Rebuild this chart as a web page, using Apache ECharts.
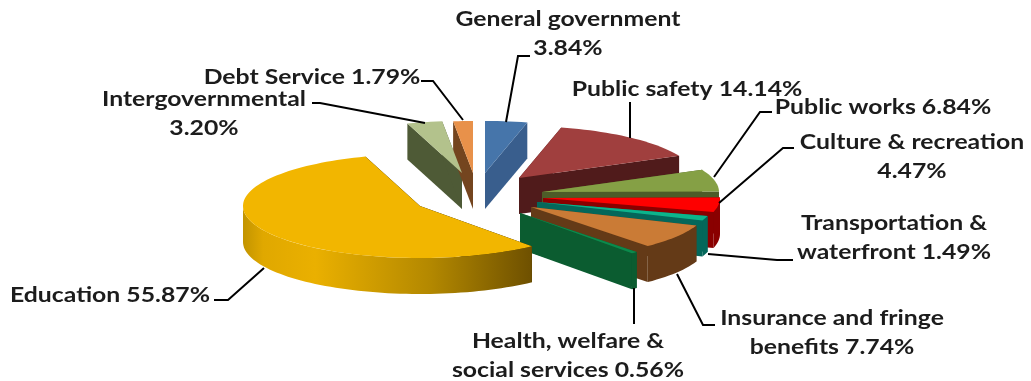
<!DOCTYPE html>
<html>
<head>
<meta charset="utf-8">
<title>Budget by function</title>
<style>html,body{margin:0;padding:0;background:#fff}#chart{width:1031px;height:381px}</style>
<script src="https://cdn.jsdelivr.net/npm/echarts@6/dist/echarts.min.js"></script>
</head>
<body>
<div id="chart"></div>
<script>
// Spending shares, clockwise from twelve o'clock.
var categories = ['General government', 'Public safety', 'Public works', 'Culture & recreation',
  'Transportation & waterfront', 'Insurance and fringe benefits', 'Health, welfare & social services',
  'Education', 'Intergovernmental', 'Debt Service'];
var shares = [3.84, 14.14, 6.84, 4.47, 1.49, 7.74, 0.56, 55.87, 3.20, 1.79];
var labelTemplates = ['General government\n{v}', 'Public safety {v}', 'Public works {v}', 'Culture & recreation\n{v}',
  'Transportation &\nwaterfront {v}', 'Insurance and fringe\nbenefits {v}', 'Health, welfare &\nsocial services {v}',
  'Education {v}', 'Intergovernmental\n{v}', 'Debt Service {v}'];

// Projection of the tilted disc.
var RX = 177, RY = 52, DEPTH = 36;

// Where each exploded wedge has its tip.
var wedgeTips = [[485, 173], [519, 178], [542, 192], [543, 198], [537, 202], [531, 207], [520, 213], [420, 206], [462, 173], [473, 173]];
var topColors = ['#4675aa', '#a03f3e', '#85a045', '#fe0000', '#0cb48c', '#ca7b36', '#0b8a4c', '#f2b600', '#b3c28c', '#e8914a'];
var sideColors = ['#395e8d', '#501b1b', '#4d5c28', '#8a0000', '#04675a', '#643a17', '#0b5c30', '#000', '#4e5a36', '#74451f'];
// Wedges are painted from the back of the disc to the front.
var paintRank = [1, 2, 3, 4, 5, 6, 7, 8, 0, 0];

// Label anchors and leader lines.
var labelAnchors = [[568, 34], [687, 89], [883, 107], [912, 157], [894, 238], [832, 333], [568, 356], [110, 295], [204, 114], [312, 77]];
var leaders = [
  [[530, 56], [518, 56], [506, 122]],
  [[630, 102], [630, 138]],
  [[772, 112], [760, 112], [714, 177]],
  [[794, 148], [783, 148], [719, 203]],
  [[793, 260], [777, 260], [708, 254]],
  [[715, 325], [703, 325], [677, 274]],
  [[634, 324], [634, 288]],
  [[214, 300], [228, 300], [264, 268]],
  [[312, 103], [320, 103], [425, 123]],
  [[421, 81], [433, 81], [463, 120]]
];

var total = shares.reduce(function (a, b) { return a + b; }, 0);
var starts = [];
shares.reduce(function (acc, v, i) { starts[i] = acc; return acc + v; }, 0);

function rimPoint(tip, deg) {
  var r = deg * Math.PI / 180;
  return [tip[0] + RX * Math.sin(r), tip[1] - RY * Math.cos(r)];
}
function arcPoints(tip, a, b) {
  var n = Math.max(2, Math.ceil(Math.abs(b - a) / 2)), pts = [];
  for (var i = 0; i <= n; i++) pts.push(rimPoint(tip, a + (b - a) * i / n));
  return pts;
}
function drop(p) { return [p[0], p[1] + DEPTH]; }
function poly(points, fill, z2) {
  return { type: 'polygon', z2: z2, shape: { points: points }, style: { fill: fill, stroke: null } };
}

function renderWedge(params, api) {
  var i = params.dataIndex;
  var start = api.value(1) / total * 360;
  var sweep = api.value(0) / total * 360;
  var end = start + sweep;
  var tip = wedgeTips[i], z = paintRank[i] * 10 + 1;
  var a = rimPoint(tip, start), b = rimPoint(tip, end);
  var tipLow = drop(tip);
  var children = [
    poly([tip, a, drop(a), tipLow], sideColors[i], z),
    poly([tip, b, drop(b), tipLow], sideColors[i], z)
  ];
  // Outer wall: only the part facing the viewer.
  var wallFrom = Math.max(start, 90), wallTo = Math.min(end, 270);
  if (wallTo > wallFrom) {
    var arc = arcPoints(tip, wallFrom, wallTo);
    var fill = categories[i] === 'Education'
      ? new echarts.graphic.LinearGradient(1, 0, 0, 0, [
          { offset: 0, color: '#6e5000' }, { offset: 0.35, color: '#b38800' },
          { offset: 0.75, color: '#eab000' }, { offset: 0.93, color: '#e0a800' }, { offset: 1, color: '#c29400' }])
      : sideColors[i];
    children.push(poly(arc.concat(arc.map(drop).reverse()), fill, z + 1));
  }
  children.push(poly([tip].concat(arcPoints(tip, start, end)), topColors[i], z + 2));
  return { type: 'group', children: children };
}

function renderLabel(params, api) {
  var i = params.dataIndex;
  var value = api.value(0).toFixed(2) + '%';
  return {
    type: 'group',
    children: [
      { type: 'polyline', z2: 200, shape: { points: leaders[i] },
        style: { fill: null, stroke: '#000', lineWidth: 2 } },
      { type: 'text', z2: 201,
        x: labelAnchors[i][0], y: labelAnchors[i][1], scaleX: 1.18,
        style: {
          x: 0, y: 0,
          text: labelTemplates[i].replace('{v}', value),
          textAlign: 'center', textVerticalAlign: 'middle',
          font: 'bold 21px Lato', lineHeight: 29, fill: '#1c1c1c' } }
    ]
  };
}

var chart = echarts.init(document.getElementById('chart'), null, { renderer: 'canvas' });
var rows = shares.map(function (v, i) { return [v, starts[i]]; });
chart.setOption({
  animation: false,
  backgroundColor: '#fff',
  series: [
    { type: 'custom', coordinateSystem: 'none', renderItem: renderWedge, data: rows, silent: true, z: 2 },
    { type: 'custom', coordinateSystem: 'none', renderItem: renderLabel, data: rows, silent: true, z: 3 }
  ]
});
</script>
</body>
</html>
